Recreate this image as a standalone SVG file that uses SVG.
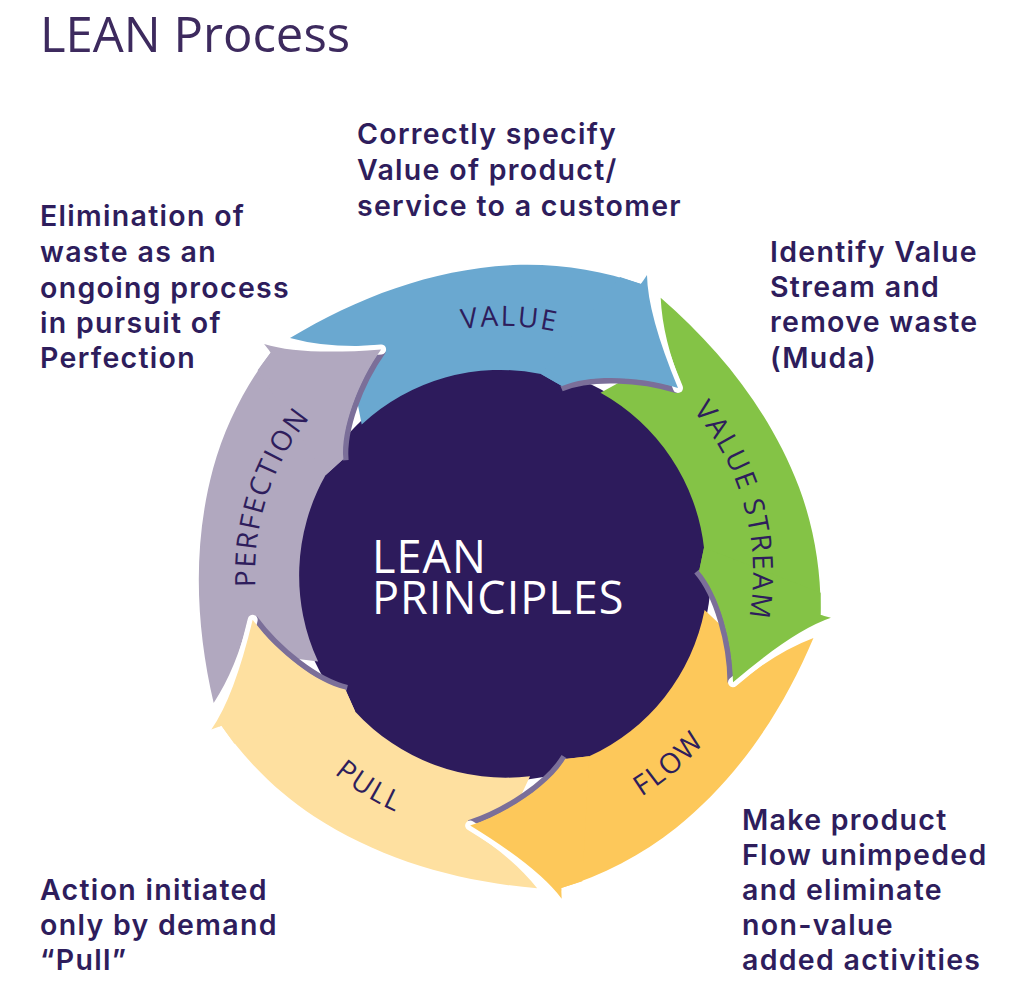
<svg xmlns="http://www.w3.org/2000/svg" xmlns:xlink="http://www.w3.org/1999/xlink" width="1024" height="985" viewBox="0 0 1024 985">
<style>
.txt{font-family:Inter,"Open Sans","Liberation Sans",sans-serif;font-size:28.5px;font-weight:600;fill:#2E1D5C;letter-spacing:1.3px}
.title{font-family:"Open Sans","Liberation Sans",sans-serif;font-size:49px;font-weight:500;fill:#3D2A5E}
.lbl{font-family:"Open Sans","Liberation Sans",sans-serif;font-size:28px;font-weight:400;fill:#2E1D5C;letter-spacing:2px}
.core{font-family:"Open Sans","Liberation Sans",sans-serif;font-size:45px;font-weight:400;fill:#FFFFFF;letter-spacing:1px}
.shadow{fill:none;stroke:#7B6F99;stroke-width:6}
.gap{fill:none;stroke:#FFFFFF;stroke-width:10;stroke-linecap:round}
.c-value{fill:#6AA8D0}
.c-stream{fill:#84C346}
.c-flow{fill:#FDC85A}
.c-pull{fill:#FEE0A0}
.c-perf{fill:#B1A8BF}
</style>
<defs>
<path id="body" d="M290 338 C358 297 433 269 513 265 C556 263 601 270 641 284 L647 275 Q647.5 314.5 678 388 C640 376 590 374 562 386 L541 374 A204 204 0 0 0 361.7 424.5 L351 369 L382 345 Q330 349 290 338 Z"/>
<path id="head" d="M620 277 L641 284 L647 275 Q647.5 314.5 678 388 C640 376 590 374 562 386 L541 374 Z"/>
<path id="ot" d="M647 275 Q647.5 314.5 678 388"/>
<path id="ti" d="M678 388 C640 376 590 374 562 386"/>
<path id="arc-value" d="M344.2 383.8 A247 247 0 0 1 671.5 392.4"/>
<path id="arc-stream" d="M646.4 368.2 A250 250 0 0 1 729.6 678.7"/>
<path id="arc-flow" d="M507.6 836 A263 263 0 0 0 762.8 614.1"/>
<path id="arc-pull" d="M253.8 654 A262 262 0 0 0 539.5 832.5"/>
<path id="arc-perf" d="M273.1 665.9 A248 248 0 0 1 371.6 362.7"/>
</defs>

<text class="title" x="40" y="52">LEAN Process</text>

<g id="lean-principles">
<circle cx="503" cy="573" r="208" fill="#2D1B5C"/>
</g>

<g id="value"><use href="#body" class="c-value"/></g>
<g id="value-stream"><use href="#body" class="c-stream" transform="rotate(72 503 573)"/></g>
<g id="flow"><use href="#body" class="c-flow" transform="rotate(144 503 573)"/></g>
<g id="pull"><use href="#body" class="c-pull" transform="rotate(216 503 573)"/></g>
<g id="perfection"><use href="#body" class="c-perf" transform="rotate(288 503 573)"/></g>

<g id="connectors">
<g transform="rotate(0 503 573)"><use href="#ti" class="shadow" transform="translate(-0.5 2.5)"/><use href="#ot" class="gap"/><use href="#head" class="c-value"/></g>
<g transform="rotate(72 503 573)"><use href="#ti" class="shadow" transform="translate(-0.5 2.5)"/><use href="#ot" class="gap"/><use href="#head" class="c-stream"/></g>
<g transform="rotate(144 503 573)"><use href="#ti" class="shadow" transform="translate(-0.5 2.5)"/><use href="#ot" class="gap"/><use href="#head" class="c-flow"/></g>
<g transform="rotate(216 503 573)"><use href="#ti" class="shadow" transform="translate(-0.5 2.5)"/><use href="#ot" class="gap"/><use href="#head" class="c-pull"/></g>
<g transform="rotate(288 503 573)"><use href="#ti" class="shadow" transform="translate(-0.5 2.5)"/><use href="#ot" class="gap"/><use href="#head" class="c-perf"/></g>
</g>

<g id="labels">
<text class="lbl"><textPath href="#arc-value" startOffset="50%" text-anchor="middle">VALUE</textPath></text>
<text class="lbl"><textPath href="#arc-stream" startOffset="50%" text-anchor="middle">VALUE  STREAM</textPath></text>
<text class="lbl"><textPath href="#arc-flow" startOffset="50%" text-anchor="middle">FLOW</textPath></text>
<text class="lbl"><textPath href="#arc-pull" startOffset="50%" text-anchor="middle">PULL</textPath></text>
<text class="lbl"><textPath href="#arc-perf" startOffset="50%" text-anchor="middle">PERFECTION</textPath></text>
<text class="core"><tspan x="372" y="573">LEAN</tspan><tspan x="372" y="614">PRINCIPLES</tspan></text>
</g>

<g id="notes">
<text class="txt"><tspan x="357" y="144">Correctly specify</tspan><tspan x="357" y="180">Value of product/</tspan><tspan x="357" y="216">service to a customer</tspan></text>
<text class="txt"><tspan x="40" y="226">Elimination of</tspan><tspan x="40" y="262">waste as an</tspan><tspan x="40" y="298">ongoing process</tspan><tspan x="40" y="333">in pursuit of</tspan><tspan x="40" y="368">Perfection</tspan></text>
<text class="txt"><tspan x="770" y="262">Identify Value</tspan><tspan x="770" y="297">Stream and</tspan><tspan x="770" y="332">remove waste</tspan><tspan x="770" y="368">(Muda)</tspan></text>
<text class="txt"><tspan x="742" y="830">Make product</tspan><tspan x="742" y="865">Flow unimpeded</tspan><tspan x="742" y="900">and eliminate</tspan><tspan x="742" y="935">non-value</tspan><tspan x="742" y="970">added activities</tspan></text>
<text class="txt"><tspan x="40" y="900">Action initiated</tspan><tspan x="40" y="935">only by demand</tspan><tspan x="40" y="970">“Pull”</tspan></text>
</g>
</svg>
